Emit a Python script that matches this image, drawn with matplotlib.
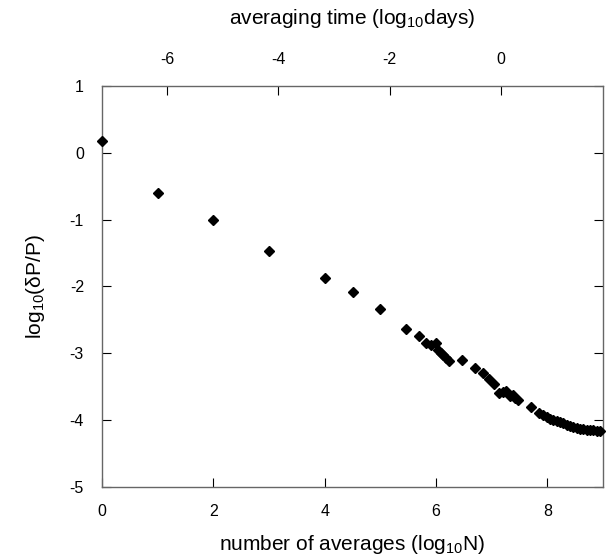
import numpy as np
import matplotlib.pyplot as plt

plt.rcParams['font.family'] = ['Liberation Sans', 'DejaVu Sans']
plt.rcParams['axes.unicode_minus'] = False
plt.rcParams['mathtext.fontset'] = 'custom'
plt.rcParams['mathtext.rm'] = 'Liberation Sans'
plt.rcParams['mathtext.it'] = 'Liberation Sans:italic'

# log10 of number of averages and log10 of fractional error
log_n = [0.0, 1.0, 2.0, 3.0, 4.0, 4.51, 5.0, 5.47, 5.70, 5.83, 5.92, 6.0, 6.04,
         6.09, 6.13, 6.18, 6.24, 6.46, 6.70, 6.85, 6.96, 7.05, 7.14, 7.20,
         7.26, 7.33, 7.38, 7.42, 7.48, 7.70, 7.86, 7.93, 7.99, 8.05, 8.11,
         8.17, 8.23, 8.29, 8.35, 8.41, 8.47, 8.53, 8.59, 8.65, 8.71, 8.77,
         8.83, 8.89, 8.94]
log_err = [0.18, -0.60, -1.00, -1.47, -1.87, -2.08, -2.33, -2.63, -2.74, -2.85,
           -2.88, -2.84, -2.95, -2.99, -3.03, -3.07, -3.11, -3.10, -3.22, -3.30,
           -3.39, -3.46, -3.60, -3.58, -3.56, -3.64, -3.62, -3.67, -3.70, -3.81,
           -3.89, -3.93, -3.96, -3.98, -4.00, -4.02, -4.03, -4.05, -4.07, -4.09,
           -4.10, -4.12, -4.13, -4.135, -4.14, -4.145, -4.15, -4.155, -4.16]

# offset between log10(N) and log10(days)
day_offset = 7.17

x_ticks = [0, 2, 4, 6, 8]
y_ticks = [1, 0, -1, -2, -3, -4, -5]
top_ticks = [-6, -4, -2, 0]

fig = plt.figure(figsize=(6.09, 5.6), dpi=100)
ax = fig.add_axes([0.1675, 0.1304, 0.8225, 0.716])

ax.plot(log_n, log_err, linestyle='none', marker='D', markersize=5.2,
        color='black', clip_on=False, zorder=5)

ax.set_xlim(0, 9)
ax.set_ylim(-5, 1)
ax.set_xticks(x_ticks)
ax.set_yticks(y_ticks)
ax.tick_params(axis='both', direction='in', length=6.5, width=0.8,
               labelsize=11.5, pad=13, colors='black')
ax.tick_params(axis='y', right=True)
ax.tick_params(axis='x', pad=12)
for sp in ax.spines.values():
    sp.set_color('#666666')
    sp.set_linewidth(1.0)

ax.set_xlabel('number of averages (log$_{10}$N)', fontsize=15, labelpad=10)
ax.set_ylabel('log$_{10}$(δP/P)', fontsize=15, labelpad=16)

top = ax.secondary_xaxis('top', functions=(lambda x: x - day_offset,
                                           lambda x: x + day_offset))
top.set_xticks(top_ticks)
top.tick_params(direction='in', length=6.5, width=0.8, labelsize=11.5, pad=14)
top.spines['top'].set_visible(False)
top.set_xlabel('averaging time (log$_{10}$days)', fontsize=15, labelpad=20)

fig.savefig('out.png', dpi=100)
